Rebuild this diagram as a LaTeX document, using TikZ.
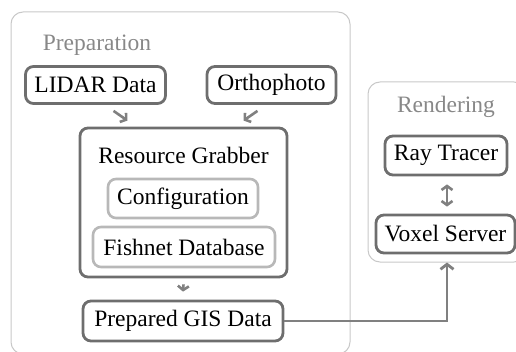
\documentclass[tikz,border=0pt]{standalone}
\usepackage{fontspec}
\setmainfont{Liberation Serif}
\usetikzlibrary{arrows.meta}
\definecolor{boxgray}{HTML}{6E6E6E}
\definecolor{lightgray}{HTML}{B8B8B8}
\definecolor{groupgray}{HTML}{C8C8C8}
\definecolor{titlegray}{HTML}{888888}
\definecolor{arrowgray}{HTML}{808080}
\begin{document}
\begin{tikzpicture}
[
    x=1pt, y=1pt,
    group/.style={shape=rectangle, rounded corners=12pt, draw=groupgray, line width=1pt, inner sep=0pt},
    common/.style={shape=rectangle, rounded corners=8pt, draw=boxgray, line width=2.8pt, inner sep=0pt, font=\fontsize{23.5}{28}\selectfont},
    soft/.style={shape=rectangle, rounded corners=8pt, draw=lightgray, line width=2.6pt, inner sep=0pt, font=\fontsize{23.5}{28}\selectfont},
    title/.style={text=titlegray, inner sep=0pt, font=\fontsize{23.5}{28}\selectfont},
    arr/.style={draw=arrowgray, line width=2.6pt, -{Straight Barb[length=4pt, width=11pt]}},
    twoarr/.style={draw=arrowgray, line width=2.6pt, {Straight Barb[length=4pt, width=11pt]}-{Straight Barb[length=4pt, width=11pt]}},
    link/.style={draw=arrowgray, line width=2.8pt, -{Straight Barb[length=5pt, width=13pt]}},
]
\useasboundingbox (0,0) rectangle (516,351);
% groups
\node[group, minimum width=339pt, minimum height=342pt] (prep) at (180.5,168) {};
\node[title] (preptitle) at (97,306) {Preparation};
\node[group, minimum width=158pt, minimum height=180pt] (render) at (447,179) {};
\node[title] (rendertitle) at (446,244) {Rendering};
% preparation
\node[common, minimum width=140pt, minimum height=37pt] (lidar) at (95.5,266) {LIDAR Data};
\node[common, minimum width=129pt, minimum height=37pt] (ortho) at (271.5,266) {Orthophoto};
\node[common, minimum width=207pt, minimum height=149pt] (grabber) at (183.5,148.5) {};
\node[inner sep=0pt, font=\fontsize{23.5}{28}\selectfont] (grabbertitle) at (183.5,196) {Resource Grabber};
\node[soft, minimum width=150pt, minimum height=39pt] (config) at (183,152.5) {Configuration};
\node[soft, minimum width=182pt, minimum height=40pt] (fishnet) at (184,104) {Fishnet Database};
\node[common, minimum width=200pt, minimum height=40pt] (gis) at (183,30) {Prepared GIS Data};
% rendering
\node[common, minimum width=122pt, minimum height=39pt] (tracer) at (446,195.5) {Ray Tracer};
\node[common, minimum width=139pt, minimum height=38pt] (voxel) at (445.5,117) {Voxel Server};
% arrows
\draw[arr] ([xshift=18pt,yshift=-6pt]lidar.south) -- ([xshift=-56pt,yshift=6pt]grabber.north);
\draw[arr] ([xshift=-14pt,yshift=-6pt]ortho.south) -- ([xshift=60pt,yshift=6pt]grabber.north);
\draw[arr] ([yshift=-6pt]grabber.south) -- ([yshift=8pt]gis.north);
\draw[twoarr] ([xshift=1pt,yshift=-8pt]tracer.south) -- ([xshift=1.5pt,yshift=7pt]voxel.north);
\draw[link] (gis.east) -| (render.south);
\end{tikzpicture}
\end{document}
